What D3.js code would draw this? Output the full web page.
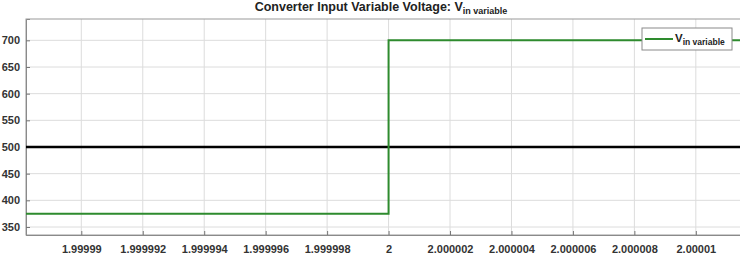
<!DOCTYPE html>
<html><head><meta charset="utf-8">
<script src="https://cdn.jsdelivr.net/npm/d3@7"></script>
<style>body{margin:0;background:#fff}svg{display:block;font-family:"Liberation Sans",Arial,sans-serif}</style>
</head><body><div id="c"></div>
<script>
const xTicks = [1.99999, 1.999992, 1.999994, 1.999996, 1.999998, 2, 2.000002, 2.000004, 2.000006, 2.000008, 2.00001];
const xTickLabels = ["1.99999","1.999992","1.999994","1.999996","1.999998","2","2.000002","2.000004","2.000006","2.000008","2.00001"];
const yTicks = [350, 400, 450, 500, 550, 600, 650, 700];
const vinTime = [1.9999882, 2, 2, 2.0000116];
const vinValue = [375, 375, 700, 700];
const refTime = [1.9999882, 2.0000116];
const refValue = [500, 500];
const xDomain = [1.9999882, 2.0000116];
const yDomain = [335, 740];

const W = 740, H = 254;
const m = {l: 26, t: 19, r: 745, b: 235};
const svg = d3.select("#c").append("svg").attr("width", W).attr("height", H);
const x = d3.scaleLinear().domain(xDomain).range([m.l, m.r]);
const y = d3.scaleLinear().domain(yDomain).range([m.b, m.t]);

// grid
svg.append("g").selectAll("line").data(xTicks).join("line")
  .attr("x1", d => x(d)).attr("x2", d => x(d)).attr("y1", m.t).attr("y2", m.b)
  .attr("stroke", "#dcdcdc").attr("stroke-width", 1);
svg.append("g").selectAll("line").data(yTicks).join("line")
  .attr("x1", m.l).attr("x2", m.r).attr("y1", d => y(d)).attr("y2", d => y(d))
  .attr("stroke", "#dcdcdc").attr("stroke-width", 1);

// box
svg.append("rect").attr("x", m.l).attr("y", m.t).attr("width", m.r - m.l).attr("height", m.b - m.t)
  .attr("fill", "none").attr("stroke", "#9a9a9a").attr("stroke-width", 1);

// axes
const xAxis = d3.axisBottom(x).tickValues(xTicks).tickFormat((d, i) => xTickLabels[i]).tickSize(-4).tickPadding(10);
const gx = svg.append("g").attr("transform", `translate(0,${m.b})`).call(xAxis);
gx.select(".domain").attr("stroke", "#8a8a8a");
gx.selectAll(".tick line").attr("stroke", "#777");
gx.selectAll("text").attr("font-size", 11).attr("font-weight", "bold").attr("fill", "#333")
  .attr("font-family", "Liberation Sans, Arial, sans-serif");

const yAxis = d3.axisLeft(y).tickValues(yTicks).tickFormat(d3.format("d")).tickSize(-4).tickPadding(6);
const gy = svg.append("g").attr("transform", `translate(${m.l},0)`).call(yAxis);
gy.select(".domain").attr("stroke", "#8a8a8a");
gy.selectAll(".tick line").attr("stroke", "#777");
gy.selectAll("text").attr("font-size", 11).attr("font-weight", "bold").attr("fill", "#333")
  .attr("font-family", "Liberation Sans, Arial, sans-serif");

const line = d3.line().x(d => x(d[0])).y(d => y(d[1]));
svg.append("path").datum(refTime.map((t, i) => [t, refValue[i]]))
  .attr("d", line).attr("fill", "none").attr("stroke", "#000").attr("stroke-width", 2.5);
svg.append("path").datum(vinTime.map((t, i) => [t, vinValue[i]]))
  .attr("d", line).attr("fill", "none").attr("stroke", "#2e8b2e").attr("stroke-width", 2);

// title
const title = svg.append("text").attr("x", 381).attr("y", 11).attr("text-anchor", "middle")
  .attr("font-size", 12.5).attr("font-weight", "bold").attr("fill", "#222");
title.append("tspan").text("Converter Input Variable Voltage: V");
title.append("tspan").attr("font-size", 9).attr("dy", 3).text("in variable");

// legend
const lg = svg.append("g");
lg.append("rect").attr("x", 642).attr("y", 28).attr("width", 90).attr("height", 22)
  .attr("fill", "#fff").attr("stroke", "#8a8a8a").attr("stroke-width", 1);
lg.append("line").attr("x1", 645).attr("x2", 673).attr("y1", 39).attr("y2", 39)
  .attr("stroke", "#2e8b2e").attr("stroke-width", 2);
const lt = lg.append("text").attr("x", 675).attr("y", 42).attr("font-size", 11.5)
  .attr("font-weight", "bold").attr("fill", "#222");
lt.append("tspan").text("V");
lt.append("tspan").attr("font-size", 8.5).attr("dy", 3).text("in variable");
</script></body></html>
